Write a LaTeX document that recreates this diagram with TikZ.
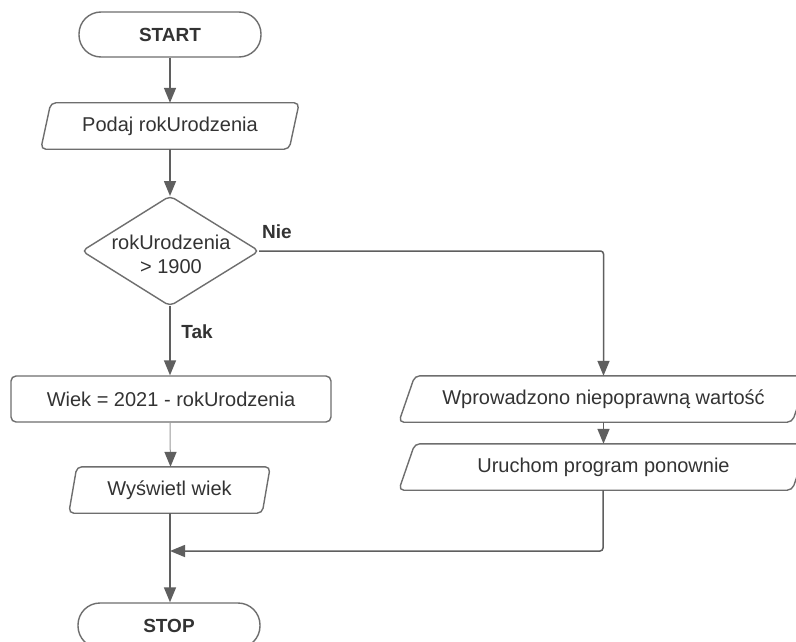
\documentclass[tikz,border=0pt]{standalone}
\usepackage{fontspec}
\setmainfont{Liberation Sans}
\usetikzlibrary{arrows.meta,calc}
\definecolor{txt}{HTML}{333333}
\definecolor{edge}{HTML}{6E6E6E}
\definecolor{wire}{HTML}{5F5F5F}
\definecolor{wirelight}{HTML}{9A9A9A}
\tikzset{
  base/.style={font=\fontsize{20}{24}\selectfont, text=txt, inner sep=0pt},
  term/.style={base, draw=edge, line width=1.4pt, rounded corners=22pt, font=\fontsize{19}{23}\selectfont\bfseries},
  procbox/.style={base, draw=edge, line width=1.4pt, rounded corners=5pt},
  iobox/.style={base},
  decbox/.style={base, draw=edge, line width=1.4pt, rounded corners=5pt},
  lbl/.style={font=\fontsize{19}{23}\selectfont\bfseries, text=txt},
  flow/.style={draw=wire, line width=1.5pt, -{Triangle[width=12pt,length=15pt]}, rounded corners=3pt},
}
\newcommand{\iopath}[2]{%
  \draw[draw=edge, line width=1.4pt, rounded corners=5pt]
    ($(#1.south west)+(-#2,0)$) -- ($(#1.north west)+(#2,0)$) --
    ($(#1.north east)+(#2,0)$) -- ($(#1.south east)+(-#2,0)$) -- cycle;}
\begin{document}
\begin{tikzpicture}[x=1pt,y=-1pt]
\clip (0,0) rectangle (796,642);
\fill[white] (0,0) rectangle (796,642);

\node[term, minimum width=182pt, minimum height=45pt] (start) at (170,34.5) {START};
\node[iobox, minimum width=248pt, minimum height=46pt] (podaj) at (170,126) {Podaj rokUrodzenia};
\iopath{podaj}{5pt}
\draw[decbox] (170,196) coordinate (dtop) -- (259,251) coordinate (dright) -- (170,306) coordinate (dbot) -- (82,251) -- cycle;
\node[base, align=center] (dec) at (171,254) {rokUrodzenia\\> 1900};
\node[procbox, minimum width=320pt, minimum height=46pt] (wiek) at (171,399) {Wiek = 2021 - rokUrodzenia};
\node[iobox, minimum width=193pt, minimum height=46pt] (wys) at (169.5,490) {Wyświetl wiek};
\iopath{wys}{4pt}
\node[term, minimum width=182pt, minimum height=45pt] (stop) at (169,625.5) {STOP};
\node[iobox, minimum width=393pt, minimum height=46pt] (wpr) at (603.5,399) {Wprowadzono niepoprawną wartość};
\iopath{wpr}{8pt}
\node[iobox, minimum width=393pt, minimum height=46pt] (uru) at (603.5,467) {Uruchom program ponownie};
\iopath{uru}{8pt}

\node[lbl] (nie) at (277,232) {Nie};
\node[lbl] (tak) at (197,332) {Tak};

\coordinate (merge) at (170,551);
\draw[flow] (start) -- (podaj);
\draw[flow] (podaj) -- (dtop);
\draw[flow] (dbot) -- (wiek.north -| dbot);
\draw[flow] (dright) -| (wpr.north -| uru);
\draw[flow] (wpr) -- (uru);
\draw[draw=wirelight, line width=1pt] (wiek.south -| 170,0) -- (170,445) -- (170.5,455);
\draw[flow] (170.5,452) -- (wys.north -| 170.5,0);
\draw[flow] (wys.south -| merge) -- (stop.north -| merge);
\draw[flow] (uru.south -| 603,0) |- (merge);
\end{tikzpicture}
\end{document}
